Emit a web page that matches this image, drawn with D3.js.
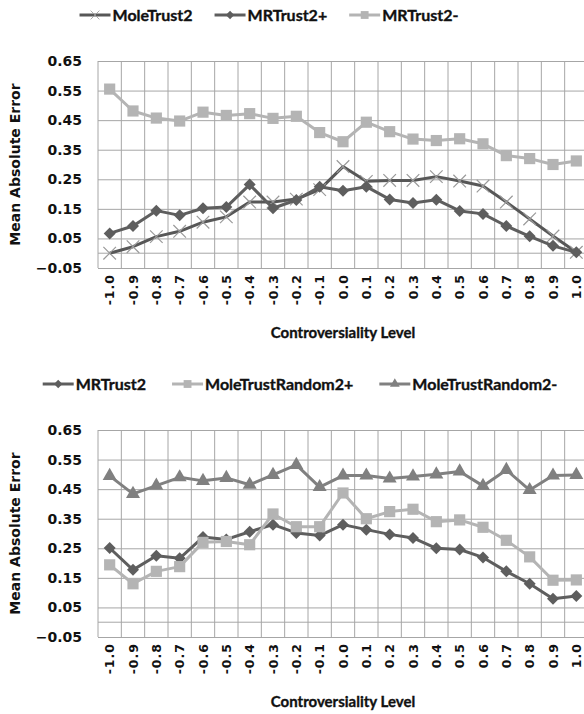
<!DOCTYPE html>
<html>
<head>
<meta charset="utf-8">
<script src="https://cdn.jsdelivr.net/npm/d3@7"></script>
<style>
  body { margin: 0; background: #fff; }
  svg { display: block; }
</style>
</head>
<body>
<div id="chart"></div>
<script>
// categories (x axis) and y tick labels
const levels = ['-1.0', '-0.9', '-0.8', '-0.7', '-0.6', '-0.5', '-0.4', '-0.3', '-0.2', '-0.1', '0.0',
  '0.1', '0.2', '0.3', '0.4', '0.5', '0.6', '0.7', '0.8', '0.9', '1.0'];
const yTicks = [-0.05, 0.05, 0.15, 0.25, 0.35, 0.45, 0.55, 0.65];

// top chart
const moleTrust2 = [0.000, 0.022, 0.056, 0.074, 0.105, 0.123, 0.173, 0.173, 0.183, 0.215, 0.293,
  0.243, 0.246, 0.246, 0.259, 0.244, 0.227, 0.173, 0.116, 0.058, 0.003];
const mrTrust2Plus = [0.067, 0.092, 0.144, 0.128, 0.152, 0.156, 0.232, 0.152, 0.180, 0.225, 0.211,
  0.225, 0.182, 0.170, 0.181, 0.143, 0.133, 0.092, 0.057, 0.025, 0.003];
const mrTrust2Minus = [0.555, 0.481, 0.457, 0.447, 0.477, 0.466, 0.472, 0.456, 0.463, 0.408, 0.377,
  0.443, 0.411, 0.386, 0.381, 0.387, 0.370, 0.330, 0.320, 0.300, 0.312];

// bottom chart
const mrTrust2 = [0.251, 0.177, 0.225, 0.216, 0.288, 0.280, 0.306, 0.330, 0.302, 0.293, 0.330,
  0.313, 0.297, 0.285, 0.250, 0.246, 0.219, 0.172, 0.130, 0.079, 0.089];
const moleTrustRandom2Plus = [0.194, 0.130, 0.172, 0.188, 0.270, 0.273, 0.262, 0.366, 0.323, 0.323, 0.437,
  0.350, 0.374, 0.382, 0.340, 0.346, 0.321, 0.277, 0.221, 0.142, 0.143];
const moleTrustRandom2Minus = [0.495, 0.434, 0.462, 0.490, 0.478, 0.488, 0.465, 0.498, 0.532, 0.457, 0.496,
  0.496, 0.486, 0.493, 0.500, 0.510, 0.461, 0.515, 0.447, 0.496, 0.498];

const width = 584, height = 714;
const plotLeft = 98, plotWidth = 490, plotHeight = 207;
const gridColor = '#a6a6a6';
const labelFont = '"Lato", "Open Sans", sans-serif';

const svg = d3.select('#chart').append('svg')
    .attr('width', width)
    .attr('height', height);

function markerPath(kind) {
  if (kind === 'x') return d3.symbol().type(d3.symbolX).size(105)();
  if (kind === 'diamond') return d3.symbol().type(d3.symbolSquare).size(72)();
  if (kind === 'square') return d3.symbol().type(d3.symbolSquare).size(125)();
  return d3.symbol().type(d3.symbolTriangle).size(85)();
}

function drawMarker(sel, s) {
  sel.append('path')
      .attr('d', markerPath(s.marker))
      .attr('transform', s.marker === 'diamond' ? 'rotate(45)' : null)
      .attr('fill', s.marker === 'x' ? 'none' : s.markerColor)
      .attr('stroke', s.marker === 'x' ? s.markerColor : 'none')
      .attr('stroke-width', 1.2);
}

function drawPanel(plotTop, series, legendCenter, legendGap) {
  const x = d3.scaleBand().domain(levels).range([plotLeft, plotLeft + plotWidth]);
  const y = d3.scaleLinear().domain([-0.05, 0.65]).range([plotTop + plotHeight, plotTop]);
  const g = svg.append('g');

  // horizontal gridlines
  g.append('g')
      .attr('transform', 'translate(' + plotLeft + ',0)')
      .call(d3.axisLeft(y).tickValues(yTicks).tickSize(-plotWidth).tickFormat(''))
      .call((a) => a.select('.domain').remove())
      .call((a) => a.selectAll('line').attr('stroke', gridColor));

  // vertical gridlines between categories
  const bounds = d3.range(levels.length + 1).map((i) => plotLeft + i * x.step());
  g.selectAll('.vgrid')
      .data(bounds)
      .enter().append('line')
      .attr('x1', (d) => d).attr('x2', (d) => d)
      .attr('y1', plotTop).attr('y2', plotTop + plotHeight)
      .attr('stroke', gridColor);

  // category axis crosses at 0
  g.append('line')
      .attr('x1', plotLeft).attr('x2', plotLeft + plotWidth)
      .attr('y1', y(0)).attr('y2', y(0))
      .attr('stroke', gridColor);

  // y tick labels
  g.selectAll('.ylab')
      .data(yTicks)
      .enter().append('text')
      .attr('x', plotLeft - 16)
      .attr('y', (d) => y(d))
      .attr('dy', '0.36em')
      .attr('text-anchor', 'end')
      .style('font', 'bold 14px "DejaVu Sans"')
      .attr('fill', '#111')
      .text((d) => d3.format('.2f')(d));

  // x tick labels, rotated
  g.selectAll('.xlab')
      .data(levels)
      .enter().append('text')
      .attr('transform', (d) => 'translate(' + (x(d) + x.bandwidth() / 2) + ',' + (plotTop + plotHeight + 6) + ') rotate(-90)')
      .attr('dy', '0.36em')
      .attr('text-anchor', 'end')
      .style('font', 'bold 12.5px "DejaVu Sans"')
      .style('letter-spacing', '1px')
      .attr('fill', '#111')
      .text((d) => d);

  // axis titles
  g.append('text')
      .attr('transform', 'translate(20,' + (plotTop + plotHeight / 2) + ') rotate(-90)')
      .attr('text-anchor', 'middle')
      .style('font', 'bold 14px "DejaVu Sans"')
      .attr('fill', '#111')
      .text('Mean Absolute Error');
  g.append('text')
      .attr('x', plotLeft + plotWidth / 2)
      .attr('y', plotTop + plotHeight + 70)
      .attr('text-anchor', 'middle')
      .style('font', 'bold 15px ' + labelFont)
      .attr('fill', '#111')
      .attr('stroke', '#111')
      .attr('stroke-width', 0.35)
      .text('Controversiality Level');

  // lines and markers
  const line = d3.line()
      .x((d, i) => x(levels[i]) + x.bandwidth() / 2)
      .y((d) => y(d));
  series.forEach((s) => {
    g.append('path')
        .attr('d', line(s.values))
        .attr('fill', 'none')
        .attr('stroke', s.color)
        .attr('stroke-width', 3)
        .attr('stroke-linejoin', 'round');
    g.selectAll(null)
        .data(s.values)
        .enter().append('g')
        .attr('transform', (d, i) => 'translate(' + (x(levels[i]) + x.bandwidth() / 2) + ',' + y(d) + ')')
        .each(function() { drawMarker(d3.select(this), s); });
  });

  // legend
  const legend = g.append('g');
  const ly = plotTop - 46;
  let cx = 0;
  series.forEach((s) => {
    const item = legend.append('g').attr('transform', 'translate(' + cx + ',' + ly + ')');
    item.append('line').attr('x1', 0).attr('x2', 31).attr('y1', 0).attr('y2', 0)
        .attr('stroke', s.color).attr('stroke-width', 3);
    const m = item.append('g').attr('transform', 'translate(15.5,0) scale(0.7)');
    drawMarker(m, s);
    const t = item.append('text')
        .attr('x', 33)
        .attr('dy', '0.36em')
        .style('font', 'bold 16px ' + labelFont)
        .attr('fill', '#111')
        .attr('stroke', '#111')
        .attr('stroke-width', 0.35)
        .text(s.name);
    cx += 33 + t.node().getComputedTextLength() + legendGap;
  });
  const total = cx - legendGap;
  legend.attr('transform', 'translate(' + (legendCenter - total / 2) + ',0)');
}

drawPanel(61, [
  { name: 'MoleTrust2', values: moleTrust2, color: '#575757', marker: 'x', markerColor: '#9a9a9a' },
  { name: 'MRTrust2+', values: mrTrust2Plus, color: '#5e5e5e', marker: 'diamond', markerColor: '#5e5e5e' },
  { name: 'MRTrust2-', values: mrTrust2Minus, color: '#b4b4b4', marker: 'square', markerColor: '#b4b4b4' }
], 269, 22);

drawPanel(430, [
  { name: 'MRTrust2', values: mrTrust2, color: '#5e5e5e', marker: 'diamond', markerColor: '#5e5e5e' },
  { name: 'MoleTrustRandom2+', values: moleTrustRandom2Plus, color: '#b4b4b4', marker: 'square', markerColor: '#b4b4b4' },
  { name: 'MoleTrustRandom2-', values: moleTrustRandom2Minus, color: '#808080', marker: 'triangle', markerColor: '#808080' }
], 300, 26);
</script>
</body>
</html>
